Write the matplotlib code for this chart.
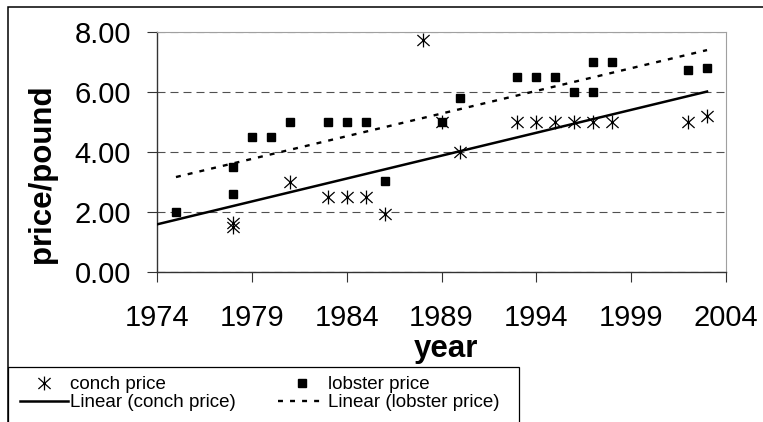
import numpy as np
import matplotlib.pyplot as plt
from matplotlib.path import Path
from matplotlib.patches import Rectangle
from matplotlib.lines import Line2D
from matplotlib.ticker import FormatStrFormatter

plt.rcParams['font.family'] = ['Liberation Sans', 'DejaVu Sans']

# values
conch_year = [1978, 1978, 1981, 1983, 1984, 1985, 1986, 1988, 1989, 1990,
              1993, 1994, 1995, 1996, 1997, 1998, 2002, 2003]
conch_price = [1.5, 1.65, 3.0, 2.5, 2.5, 2.5, 1.95, 7.75, 5.0, 4.0,
               5.0, 5.0, 5.0, 5.0, 5.0, 5.0, 5.0, 5.2]

lobster_year = [1975, 1978, 1978, 1979, 1980, 1981, 1983, 1984, 1985, 1986,
                1989, 1990, 1993, 1994, 1995, 1996, 1997, 1997, 1998, 2002, 2003]
lobster_price = [2.0, 3.5, 2.6, 4.5, 4.5, 5.0, 5.0, 5.0, 5.0, 3.05,
                 5.0, 5.8, 6.5, 6.5, 6.5, 6.0, 6.0, 7.0, 7.0, 6.75, 6.8]

year_ticks = [1974, 1979, 1984, 1989, 1994, 1999, 2004]
price_ticks = [0, 2, 4, 6, 8]

W, H = 763, 422
fig = plt.figure(figsize=(W / 100, H / 100), dpi=100)
ax = fig.add_axes([157 / W, 1 - 272 / H, (726 - 157) / W, (272 - 32) / H])

# excel-like asterisk: vertical bar plus an X
star = Path([(0, -1), (0, 1), (-0.88, -0.79), (0.88, 0.79), (-0.88, 0.79), (0.88, -0.79)],
            [Path.MOVETO, Path.LINETO] * 3)

# linear trendlines (conch one is drawn back to the axis start)
cf = np.polyfit(conch_year, conch_price, 1)
lf = np.polyfit(lobster_year, lobster_price, 1)
xc = np.array([year_ticks[0], max(conch_year)])
xl = np.array([min(lobster_year), max(lobster_year)])

conch_style = dict(marker=star, ms=10, mfc='none', mec='black', mew=0.9, ls='none')
lobster_style = dict(marker='s', ms=5.2, mfc='black', mec='black', ls='none')
conch_trend = dict(color='black', lw=1.8)
lobster_trend = dict(color='black', lw=1.7, ls=(0, (2.1, 3)))

ax.plot(xc, np.polyval(cf, xc), **conch_trend, zorder=3)
ax.plot(xl, np.polyval(lf, xl), **lobster_trend, zorder=3)
ax.plot(conch_year, conch_price, **conch_style, zorder=4)
ax.plot(lobster_year, lobster_price, **lobster_style, zorder=4)

ax.set_xlim(year_ticks[0], year_ticks[-1])
ax.set_ylim(price_ticks[0], price_ticks[-1])
ax.set_xticks(year_ticks)
ax.set_yticks(price_ticks)
ax.yaxis.set_major_formatter(FormatStrFormatter('%.2f'))

ax.grid(axis='y', color='#505050', lw=0.8, ls=(0, (7.2, 4.5)))
ax.set_axisbelow(True)
ax.tick_params(axis='both', direction='out', length=7.2, width=0.8,
               color='#333333', labelsize=21)
ax.tick_params(axis='x', pad=16)
ax.tick_params(axis='y', pad=11.5)
for side in ['left', 'bottom']:
    ax.spines[side].set_color('#333333')
    ax.spines[side].set_linewidth(1.0)
for side in ['top', 'right']:
    ax.spines[side].set_color('#a0a0a0')
    ax.spines[side].set_linewidth(0.8)

fig.text(42 / W, 1 - 174 / H, 'price/pound', rotation=90, ha='center', va='center',
         fontsize=22.5, fontweight='bold')
fig.text(446 / W, 1 - 357 / H, 'year', ha='center', va='baseline',
         fontsize=22.5, fontweight='bold')

# legend (column-major order)
handles = [Line2D([], [], **conch_style), Line2D([], [], **conch_trend),
           Line2D([], [], **lobster_style), Line2D([], [], **lobster_trend)]
labels = ['conch price', 'Linear (conch price)', 'lobster price', 'Linear (lobster price)']
fig.legend(handles, labels, loc='upper left', bbox_to_anchor=(20 / W, 1 - 376 / H),
           ncol=2, frameon=False, fontsize=13.5, handlelength=2.56, handletextpad=0.1,
           columnspacing=2.25, labelspacing=0.05, borderpad=0, borderaxespad=0,
           numpoints=1)

# chart frame and legend box, both running off the cropped image
fig.patches.append(Rectangle((8 / W, -0.5), 2, 0.5 + 1 - 7 / H, transform=fig.transFigure,
                             fill=False, edgecolor='black', lw=1.1))
fig.patches.append(Rectangle((8 / W, -0.2), (519 - 8) / W, 0.2 + 1 - 367 / H,
                             transform=fig.transFigure, fill=False, edgecolor='black', lw=0.9))

fig.savefig('out.png', dpi=100)
